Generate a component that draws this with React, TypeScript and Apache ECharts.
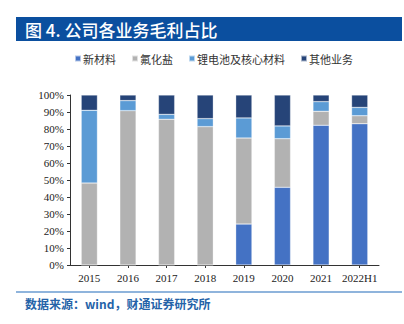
import React, { useEffect, useRef } from "react";
import * as echarts from "echarts";

const categories = ["2015", "2016", "2017", "2018", "2019", "2020", "2021", "2022H1"];
const newMaterial = [0, 0, 0, 0, 24.1, 45.7, 82.2, 83.1];
const fluoride = [48.2, 90.8, 85.7, 81.4, 50.6, 28.6, 8.2, 4.7];
const battery = [42.8, 5.9, 2.9, 4.7, 11.8, 7.5, 5.7, 4.9];
const other = [9.0, 3.3, 11.4, 13.9, 13.5, 18.2, 3.9, 7.3];
const seriesNames = ["新材料", "氟化盐", "锂电池及核心材料", "其他业务"];
const colors = ["#4472C4", "#B2B2B2", "#5B9BD5", "#264478"];

const SERIF = "Liberation Serif";

export default function App() {
  const ref = useRef<HTMLDivElement>(null);
  useEffect(() => {
    const chart = echarts.init(ref.current!, null, { renderer: "svg" });
    const data = [newMaterial, fluoride, battery, other];
    chart.setOption({
      animation: false,
      graphic: [
        { type: "rect", shape: { x: 16, y: 17, width: 386, height: 24 }, style: { fill: "#0B4F9F" } },
        {
          type: "text", x: 25, y: 29,
          style: { text: "图 4. 公司各业务毛利占比", fill: "#fff", fontSize: 17, fontWeight: 500, fontFamily: "Noto Sans CJK SC", verticalAlign: "middle" },
        },
        { type: "line", shape: { x1: 16, y1: 292, x2: 402, y2: 292 }, style: { stroke: "#6A9BD0", lineWidth: 1.5 } },
        {
          type: "text", x: 25, y: 303,
          style: { text: "数据来源：wind，财通证券研究所", fill: "#2563A8", fontSize: 12, fontWeight: "bold", fontFamily: "Noto Sans CJK SC", verticalAlign: "middle" },
        },
      ],
      legend: {
        top: 48, left: 69,
        itemWidth: 6, itemHeight: 6, itemGap: 15,
        icon: "rect",
        textStyle: { fontSize: 11, color: "#333", fontFamily: "Noto Sans CJK SC", padding: [0, 0, 0, -3] },
        data: seriesNames,
      },
      grid: { left: 70, right: 25, top: 95, bottom: 324 - 265, containLabel: false },
      xAxis: {
        type: "category",
        data: categories,
        axisLine: { lineStyle: { color: "#333", width: 1 } },
        axisTick: { show: true, alignWithLabel: true, length: 3, lineStyle: { color: "#333" } },
        axisLabel: { interval: 0, color: "#222", fontSize: 11, fontFamily: SERIF, margin: 7 },
      },
      yAxis: {
        type: "value", min: 0, max: 100, interval: 10,
        axisLine: { show: true, lineStyle: { color: "#333" } },
        axisTick: { show: true, length: 3, lineStyle: { color: "#333" } },
        splitLine: { show: false },
        axisLabel: { formatter: "{value}%", color: "#222", fontSize: 11, fontFamily: SERIF, margin: 6 },
      },
      series: seriesNames.map((name, i) => ({
        name, type: "bar", stack: "total", barWidth: "42%",
        data: data[i],
        itemStyle: { color: colors[i], borderColor: "rgba(255,255,255,0.6)", borderWidth: 0.5 },
      })),
    });
    return () => chart.dispose();
  }, []);
  return <div ref={ref} style={{ width: 404, height: 324, position: "absolute", left: 0, top: 0 }} />;
}
